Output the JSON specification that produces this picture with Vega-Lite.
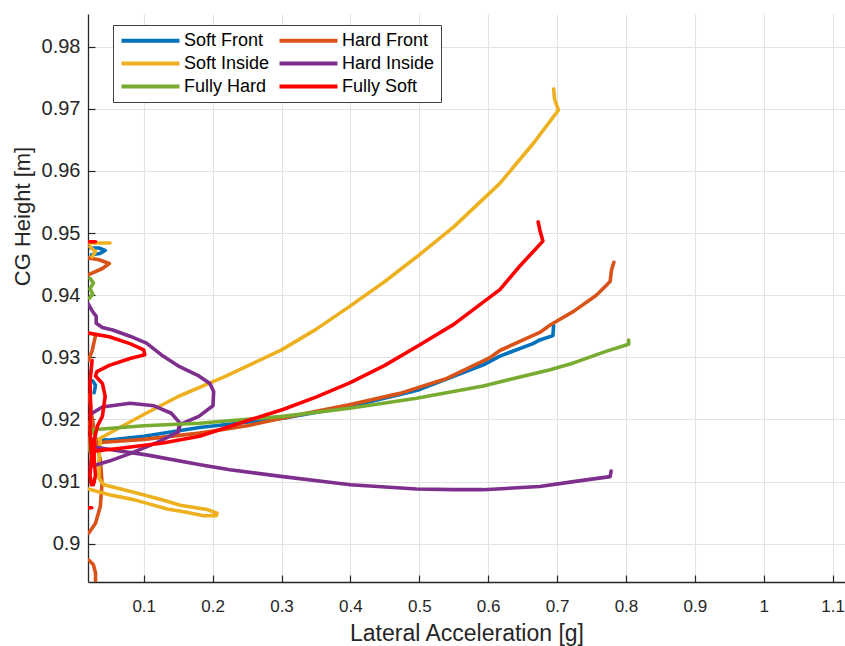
{
  "$schema": "https://vega.github.io/schema/vega-lite/v6.json",
  "width": 757,
  "height": 568,
  "autosize": {"type": "none"},
  "padding": {"left": 88, "top": 14, "right": 0, "bottom": 64},
  "background": "white",
  "config": {"view": {"stroke": null}, "font": "Liberation Sans"},
  "data": {"values": [
    {"s":"Soft Front","g":1,"i":1,"x":0.022,"y":0.9168},
    {"s":"Soft Front","g":1,"i":2,"x":0.05,"y":0.9167},
    {"s":"Soft Front","g":1,"i":3,"x":0.1,"y":0.9173},
    {"s":"Soft Front","g":1,"i":4,"x":0.181,"y":0.9187},
    {"s":"Soft Front","g":1,"i":5,"x":0.302,"y":0.9202},
    {"s":"Soft Front","g":1,"i":6,"x":0.399,"y":0.9221},
    {"s":"Soft Front","g":1,"i":7,"x":0.472,"y":0.924},
    {"s":"Soft Front","g":1,"i":8,"x":0.5,"y":0.9248},
    {"s":"Soft Front","g":1,"i":9,"x":0.593,"y":0.9288},
    {"s":"Soft Front","g":1,"i":10,"x":0.617,"y":0.9302},
    {"s":"Soft Front","g":1,"i":11,"x":0.665,"y":0.9322},
    {"s":"Soft Front","g":1,"i":12,"x":0.675,"y":0.9328},
    {"s":"Soft Front","g":1,"i":13,"x":0.694,"y":0.9335},
    {"s":"Soft Front","g":1,"i":14,"x":0.695,"y":0.9351},
    {"s":"Soft Front","g":2,"i":15,"x":0.0226,"y":0.9476},
    {"s":"Soft Front","g":2,"i":16,"x":0.035,"y":0.9476},
    {"s":"Soft Front","g":2,"i":17,"x":0.044,"y":0.9472},
    {"s":"Soft Front","g":2,"i":18,"x":0.036,"y":0.9467},
    {"s":"Soft Front","g":2,"i":19,"x":0.024,"y":0.9465},
    {"s":"Soft Front","g":3,"i":20,"x":0.026,"y":0.9262},
    {"s":"Soft Front","g":3,"i":21,"x":0.03,"y":0.9255},
    {"s":"Soft Front","g":3,"i":22,"x":0.028,"y":0.9243},

    {"s":"Hard Front","g":4,"i":30,"x":0.026,"y":0.9162},
    {"s":"Hard Front","g":4,"i":31,"x":0.1,"y":0.9168},
    {"s":"Hard Front","g":4,"i":32,"x":0.181,"y":0.9178},
    {"s":"Hard Front","g":4,"i":33,"x":0.25,"y":0.919},
    {"s":"Hard Front","g":4,"i":34,"x":0.327,"y":0.9208},
    {"s":"Hard Front","g":4,"i":35,"x":0.4,"y":0.9224},
    {"s":"Hard Front","g":4,"i":36,"x":0.472,"y":0.9242},
    {"s":"Hard Front","g":4,"i":37,"x":0.54,"y":0.9266},
    {"s":"Hard Front","g":4,"i":38,"x":0.602,"y":0.9299},
    {"s":"Hard Front","g":4,"i":39,"x":0.617,"y":0.9311},
    {"s":"Hard Front","g":4,"i":40,"x":0.675,"y":0.934},
    {"s":"Hard Front","g":4,"i":41,"x":0.69,"y":0.9352},
    {"s":"Hard Front","g":4,"i":42,"x":0.724,"y":0.9374},
    {"s":"Hard Front","g":4,"i":43,"x":0.757,"y":0.94},
    {"s":"Hard Front","g":4,"i":44,"x":0.777,"y":0.9422},
    {"s":"Hard Front","g":4,"i":45,"x":0.779,"y":0.944},
    {"s":"Hard Front","g":4,"i":46,"x":0.7825,"y":0.9453},
    {"s":"Hard Front","g":5,"i":47,"x":0.02,"y":0.946},
    {"s":"Hard Front","g":5,"i":48,"x":0.035,"y":0.9457},
    {"s":"Hard Front","g":5,"i":49,"x":0.05,"y":0.9451},
    {"s":"Hard Front","g":5,"i":50,"x":0.04,"y":0.9443},
    {"s":"Hard Front","g":5,"i":51,"x":0.02,"y":0.9433},
    {"s":"Hard Front","g":6,"i":52,"x":0.03,"y":0.9335},
    {"s":"Hard Front","g":6,"i":53,"x":0.025,"y":0.931},
    {"s":"Hard Front","g":6,"i":54,"x":0.02,"y":0.9296},
    {"s":"Hard Front","g":7,"i":55,"x":0.021,"y":0.924},
    {"s":"Hard Front","g":7,"i":56,"x":0.024,"y":0.921},
    {"s":"Hard Front","g":7,"i":57,"x":0.03,"y":0.917},
    {"s":"Hard Front","g":7,"i":58,"x":0.037,"y":0.9135},
    {"s":"Hard Front","g":7,"i":59,"x":0.0395,"y":0.9098},
    {"s":"Hard Front","g":7,"i":60,"x":0.037,"y":0.906},
    {"s":"Hard Front","g":7,"i":61,"x":0.03,"y":0.9033},
    {"s":"Hard Front","g":7,"i":62,"x":0.02,"y":0.9017},
    {"s":"Hard Front","g":8,"i":63,"x":0.02,"y":0.8974},
    {"s":"Hard Front","g":8,"i":64,"x":0.027,"y":0.8966},
    {"s":"Hard Front","g":8,"i":65,"x":0.03,"y":0.8953},
    {"s":"Hard Front","g":8,"i":66,"x":0.03,"y":0.894},

    {"s":"Soft Inside","g":9,"i":70,"x":0.695,"y":0.9732},
    {"s":"Soft Inside","g":9,"i":71,"x":0.6965,"y":0.9715},
    {"s":"Soft Inside","g":9,"i":72,"x":0.702,"y":0.9698},
    {"s":"Soft Inside","g":9,"i":73,"x":0.666,"y":0.9645},
    {"s":"Soft Inside","g":9,"i":74,"x":0.617,"y":0.958},
    {"s":"Soft Inside","g":9,"i":75,"x":0.55,"y":0.951},
    {"s":"Soft Inside","g":9,"i":76,"x":0.5,"y":0.9465},
    {"s":"Soft Inside","g":9,"i":77,"x":0.45,"y":0.9422},
    {"s":"Soft Inside","g":9,"i":78,"x":0.399,"y":0.9382},
    {"s":"Soft Inside","g":9,"i":79,"x":0.35,"y":0.9345},
    {"s":"Soft Inside","g":9,"i":80,"x":0.3,"y":0.9312},
    {"s":"Soft Inside","g":9,"i":81,"x":0.216,"y":0.9268},
    {"s":"Soft Inside","g":9,"i":82,"x":0.15,"y":0.9237},
    {"s":"Soft Inside","g":9,"i":83,"x":0.1,"y":0.9208},
    {"s":"Soft Inside","g":9,"i":84,"x":0.042,"y":0.9173},
    {"s":"Soft Inside","g":9,"i":85,"x":0.035,"y":0.9168},
    {"s":"Soft Inside","g":10,"i":86,"x":0.02,"y":0.9484},
    {"s":"Soft Inside","g":10,"i":87,"x":0.051,"y":0.9484},
    {"s":"Soft Inside","g":11,"i":88,"x":0.022,"y":0.9478},
    {"s":"Soft Inside","g":11,"i":89,"x":0.03,"y":0.947},
    {"s":"Soft Inside","g":11,"i":90,"x":0.025,"y":0.9462},
    {"s":"Soft Inside","g":12,"i":91,"x":0.037,"y":0.9165},
    {"s":"Soft Inside","g":12,"i":92,"x":0.035,"y":0.9135},
    {"s":"Soft Inside","g":12,"i":93,"x":0.035,"y":0.9105},
    {"s":"Soft Inside","g":12,"i":94,"x":0.042,"y":0.9095},
    {"s":"Soft Inside","g":12,"i":95,"x":0.0855,"y":0.9083},
    {"s":"Soft Inside","g":12,"i":96,"x":0.129,"y":0.907},
    {"s":"Soft Inside","g":12,"i":97,"x":0.153,"y":0.9062},
    {"s":"Soft Inside","g":12,"i":98,"x":0.192,"y":0.9055},
    {"s":"Soft Inside","g":12,"i":99,"x":0.2065,"y":0.9049},
    {"s":"Soft Inside","g":12,"i":100,"x":0.205,"y":0.9045},
    {"s":"Soft Inside","g":12,"i":101,"x":0.187,"y":0.9045},
    {"s":"Soft Inside","g":12,"i":102,"x":0.16,"y":0.9051},
    {"s":"Soft Inside","g":12,"i":103,"x":0.134,"y":0.9056},
    {"s":"Soft Inside","g":12,"i":104,"x":0.0855,"y":0.9071},
    {"s":"Soft Inside","g":12,"i":105,"x":0.05,"y":0.9079},
    {"s":"Soft Inside","g":12,"i":106,"x":0.02,"y":0.9088},

    {"s":"Hard Inside","g":13,"i":110,"x":0.019,"y":0.9387},
    {"s":"Hard Inside","g":13,"i":111,"x":0.025,"y":0.9375},
    {"s":"Hard Inside","g":13,"i":112,"x":0.031,"y":0.9366},
    {"s":"Hard Inside","g":13,"i":113,"x":0.031,"y":0.9355},
    {"s":"Hard Inside","g":13,"i":114,"x":0.04,"y":0.9348},
    {"s":"Hard Inside","g":13,"i":115,"x":0.055,"y":0.9344},
    {"s":"Hard Inside","g":13,"i":116,"x":0.08,"y":0.9334},
    {"s":"Hard Inside","g":13,"i":117,"x":0.104,"y":0.9323},
    {"s":"Hard Inside","g":13,"i":118,"x":0.128,"y":0.9302},
    {"s":"Hard Inside","g":13,"i":119,"x":0.152,"y":0.9285},
    {"s":"Hard Inside","g":13,"i":120,"x":0.18,"y":0.927},
    {"s":"Hard Inside","g":13,"i":121,"x":0.196,"y":0.9258},
    {"s":"Hard Inside","g":13,"i":122,"x":0.2015,"y":0.9245},
    {"s":"Hard Inside","g":13,"i":123,"x":0.2005,"y":0.9222},
    {"s":"Hard Inside","g":13,"i":124,"x":0.18,"y":0.9205},
    {"s":"Hard Inside","g":13,"i":125,"x":0.153,"y":0.9192},
    {"s":"Hard Inside","g":13,"i":126,"x":0.15,"y":0.918},
    {"s":"Hard Inside","g":13,"i":127,"x":0.12,"y":0.9163},
    {"s":"Hard Inside","g":13,"i":128,"x":0.08,"y":0.9145},
    {"s":"Hard Inside","g":13,"i":129,"x":0.05,"y":0.9133},
    {"s":"Hard Inside","g":13,"i":130,"x":0.022,"y":0.9124},
    {"s":"Hard Inside","g":14,"i":131,"x":0.022,"y":0.9208},
    {"s":"Hard Inside","g":14,"i":132,"x":0.04,"y":0.922},
    {"s":"Hard Inside","g":14,"i":133,"x":0.08,"y":0.9226},
    {"s":"Hard Inside","g":14,"i":134,"x":0.115,"y":0.9222},
    {"s":"Hard Inside","g":14,"i":135,"x":0.14,"y":0.921},
    {"s":"Hard Inside","g":14,"i":136,"x":0.152,"y":0.9195},
    {"s":"Hard Inside","g":14,"i":137,"x":0.15,"y":0.918},
    {"s":"Hard Inside","g":15,"i":138,"x":0.021,"y":0.9157},
    {"s":"Hard Inside","g":15,"i":139,"x":0.06,"y":0.915},
    {"s":"Hard Inside","g":15,"i":140,"x":0.104,"y":0.9143},
    {"s":"Hard Inside","g":15,"i":141,"x":0.182,"y":0.9127},
    {"s":"Hard Inside","g":15,"i":142,"x":0.225,"y":0.9119},
    {"s":"Hard Inside","g":15,"i":143,"x":0.302,"y":0.9108},
    {"s":"Hard Inside","g":15,"i":144,"x":0.37,"y":0.9099},
    {"s":"Hard Inside","g":15,"i":145,"x":0.4,"y":0.9095},
    {"s":"Hard Inside","g":15,"i":146,"x":0.496,"y":0.9088},
    {"s":"Hard Inside","g":15,"i":147,"x":0.55,"y":0.9087},
    {"s":"Hard Inside","g":15,"i":148,"x":0.593,"y":0.9087},
    {"s":"Hard Inside","g":15,"i":149,"x":0.675,"y":0.9092},
    {"s":"Hard Inside","g":15,"i":150,"x":0.724,"y":0.91},
    {"s":"Hard Inside","g":15,"i":151,"x":0.777,"y":0.9108},
    {"s":"Hard Inside","g":15,"i":152,"x":0.7785,"y":0.9117},

    {"s":"Fully Hard","g":16,"i":160,"x":0.0205,"y":0.9183},
    {"s":"Fully Hard","g":16,"i":161,"x":0.1,"y":0.919},
    {"s":"Fully Hard","g":16,"i":162,"x":0.181,"y":0.9194},
    {"s":"Fully Hard","g":16,"i":163,"x":0.302,"y":0.9205},
    {"s":"Fully Hard","g":16,"i":164,"x":0.399,"y":0.9218},
    {"s":"Fully Hard","g":16,"i":165,"x":0.496,"y":0.9234},
    {"s":"Fully Hard","g":16,"i":166,"x":0.593,"y":0.9254},
    {"s":"Fully Hard","g":16,"i":167,"x":0.69,"y":0.928},
    {"s":"Fully Hard","g":16,"i":168,"x":0.724,"y":0.9291},
    {"s":"Fully Hard","g":16,"i":169,"x":0.772,"y":0.931},
    {"s":"Fully Hard","g":16,"i":170,"x":0.804,"y":0.9321},
    {"s":"Fully Hard","g":16,"i":171,"x":0.804,"y":0.9328},
    {"s":"Fully Hard","g":17,"i":172,"x":0.022,"y":0.9427},
    {"s":"Fully Hard","g":17,"i":173,"x":0.027,"y":0.942},
    {"s":"Fully Hard","g":17,"i":174,"x":0.022,"y":0.941},
    {"s":"Fully Hard","g":17,"i":175,"x":0.026,"y":0.9402},
    {"s":"Fully Hard","g":17,"i":176,"x":0.021,"y":0.9395},
    {"s":"Fully Hard","g":18,"i":177,"x":0.02,"y":0.9195},
    {"s":"Fully Hard","g":18,"i":178,"x":0.025,"y":0.918},
    {"s":"Fully Hard","g":18,"i":179,"x":0.02,"y":0.9168},
    {"s":"Fully Hard","g":18,"i":180,"x":0.022,"y":0.9148},

    {"s":"Fully Soft","g":19,"i":190,"x":0.6725,"y":0.9518},
    {"s":"Fully Soft","g":19,"i":191,"x":0.675,"y":0.9505},
    {"s":"Fully Soft","g":19,"i":192,"x":0.6795,"y":0.9487},
    {"s":"Fully Soft","g":19,"i":193,"x":0.646,"y":0.9447},
    {"s":"Fully Soft","g":19,"i":194,"x":0.617,"y":0.9409},
    {"s":"Fully Soft","g":19,"i":195,"x":0.55,"y":0.9353},
    {"s":"Fully Soft","g":19,"i":196,"x":0.496,"y":0.9317},
    {"s":"Fully Soft","g":19,"i":197,"x":0.45,"y":0.9287},
    {"s":"Fully Soft","g":19,"i":198,"x":0.399,"y":0.9259},
    {"s":"Fully Soft","g":19,"i":199,"x":0.35,"y":0.9236},
    {"s":"Fully Soft","g":19,"i":200,"x":0.302,"y":0.9216},
    {"s":"Fully Soft","g":19,"i":201,"x":0.25,"y":0.9198},
    {"s":"Fully Soft","g":19,"i":202,"x":0.181,"y":0.9173},
    {"s":"Fully Soft","g":19,"i":203,"x":0.128,"y":0.9162},
    {"s":"Fully Soft","g":19,"i":204,"x":0.06,"y":0.9153},
    {"s":"Fully Soft","g":19,"i":205,"x":0.026,"y":0.9149},
    {"s":"Fully Soft","g":20,"i":206,"x":0.02,"y":0.9339},
    {"s":"Fully Soft","g":20,"i":207,"x":0.05,"y":0.9333},
    {"s":"Fully Soft","g":20,"i":208,"x":0.08,"y":0.9322},
    {"s":"Fully Soft","g":20,"i":209,"x":0.1,"y":0.9312},
    {"s":"Fully Soft","g":20,"i":210,"x":0.1015,"y":0.9304},
    {"s":"Fully Soft","g":20,"i":211,"x":0.08,"y":0.9298},
    {"s":"Fully Soft","g":20,"i":212,"x":0.05,"y":0.9287},
    {"s":"Fully Soft","g":20,"i":213,"x":0.032,"y":0.9277},
    {"s":"Fully Soft","g":20,"i":214,"x":0.03,"y":0.927},
    {"s":"Fully Soft","g":20,"i":215,"x":0.04,"y":0.9258},
    {"s":"Fully Soft","g":20,"i":216,"x":0.044,"y":0.9237},
    {"s":"Fully Soft","g":20,"i":217,"x":0.04,"y":0.9205},
    {"s":"Fully Soft","g":20,"i":218,"x":0.033,"y":0.919},
    {"s":"Fully Soft","g":20,"i":219,"x":0.028,"y":0.9167},
    {"s":"Fully Soft","g":20,"i":220,"x":0.028,"y":0.9135},
    {"s":"Fully Soft","g":20,"i":221,"x":0.03,"y":0.911},
    {"s":"Fully Soft","g":20,"i":222,"x":0.027,"y":0.9095},
    {"s":"Fully Soft","g":20,"i":223,"x":0.024,"y":0.9095},
    {"s":"Fully Soft","g":20,"i":224,"x":0.022,"y":0.911},
    {"s":"Fully Soft","g":20,"i":225,"x":0.024,"y":0.914},
    {"s":"Fully Soft","g":20,"i":226,"x":0.022,"y":0.918},
    {"s":"Fully Soft","g":20,"i":227,"x":0.023,"y":0.922},
    {"s":"Fully Soft","g":20,"i":228,"x":0.022,"y":0.926},
    {"s":"Fully Soft","g":20,"i":229,"x":0.025,"y":0.9295},
    {"s":"Fully Soft","g":21,"i":230,"x":0.0195,"y":0.9058},
    {"s":"Fully Soft","g":21,"i":231,"x":0.0245,"y":0.9058},
    {"s":"Fully Soft","g":22,"i":232,"x":0.02,"y":0.9486},
    {"s":"Fully Soft","g":22,"i":233,"x":0.03,"y":0.9486}
  ]},
  "mark": {"type": "line", "strokeWidth": 3.6, "strokeJoin": "round", "strokeCap": "round", "clip": true},
  "encoding": {
    "x": {
      "field": "x", "type": "quantitative",
      "scale": {"domain": [0.0191, 1.118], "nice": false, "zero": false},
      "axis": {
        "title": "Lateral Acceleration [g]",
        "values": [0.1,0.2,0.3,0.4,0.5,0.6,0.7,0.8,0.9,1,1.1],
        "format": "~g",
        "labelFont": "Liberation Sans",
        "labelFontSize": 17, "labelColor": "#262626", "labelPadding": 23,
        "labelFlush": false,
        "tickSize": -7, "tickColor": "#262626", "tickWidth": 1.2,
        "domainColor": "#262626", "domainWidth": 1.3,
        "grid": true, "gridColor": "#e2e2e2", "gridWidth": 1.1,
        "titleFont": "Liberation Sans",
        "titleFontSize": 23, "titleFontWeight": "normal", "titleColor": "#262626",
        "titleBaseline": "middle", "titleY": 51
      }
    },
    "y": {
      "field": "y", "type": "quantitative",
      "scale": {"domain": [0.89384, 0.98526], "nice": false, "zero": false},
      "axis": {
        "title": "CG Height [m]",
        "values": [0.9,0.91,0.92,0.93,0.94,0.95,0.96,0.97,0.98],
        "format": "~g",
        "labelFont": "Liberation Sans",
        "labelFontSize": 20, "labelColor": "#262626", "labelPadding": 15,
        "labelFlush": false,
        "tickSize": -7, "tickColor": "#262626", "tickWidth": 1.2,
        "domainColor": "#262626", "domainWidth": 1.3,
        "grid": true, "gridColor": "#e2e2e2", "gridWidth": 1.1,
        "titleFont": "Liberation Sans",
        "titleFontSize": 22, "titleFontWeight": "normal", "titleColor": "#262626",
        "titleBaseline": "middle", "titleAngle": -90, "titleX": -66, "titleY": 202
      }
    },
    "color": {
      "field": "s", "type": "nominal",
      "scale": {
        "domain": ["Soft Front","Hard Front","Soft Inside","Hard Inside","Fully Hard","Fully Soft"],
        "range": ["#0072BD","#D95319","#EDB120","#7E2F8E","#77AC30","#FF0000"]
      },
      "legend": {
        "title": null, "orient": "none", "legendX": 25, "legendY": 11,
        "direction": "horizontal",
        "columns": 2, "symbolType": "M-4,0H4", "symbolSize": 210, "symbolStrokeWidth": 4,
        "symbolOffset": 22,
        "labelFont": "Liberation Sans", "labelFontSize": 18, "labelColor": "#000000",
        "labelOffset": 24, "columnPadding": 1, "rowPadding": 4, "padding": 6,
        "strokeColor": "#404040", "fillColor": "white", "cornerRadius": 0
      }
    },
    "detail": {"field": "g", "type": "nominal"},
    "order": {"field": "i", "type": "quantitative"}
  }
}
